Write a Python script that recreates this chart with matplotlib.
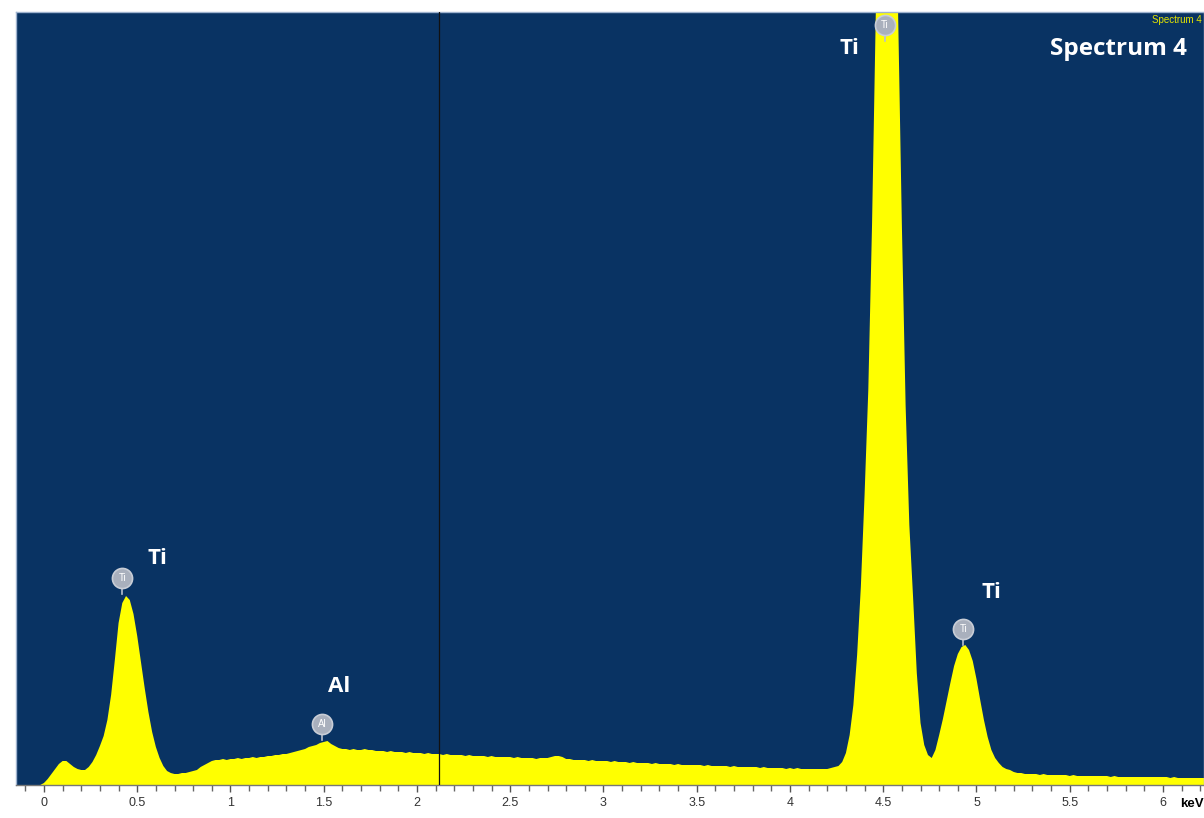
import numpy as np
import matplotlib
matplotlib.use("Agg")
import matplotlib.pyplot as plt
from matplotlib.ticker import MultipleLocator, FixedLocator

# EDS spectrum: counts per 0.02 keV channel, first channel at -0.02 keV
start_kev = -0.02
channel_kev = 0.02
counts = [
    0,
    2, 6, 11, 16, 21, 24, 24, 21, 18, 16,
    15, 15, 18, 23, 30, 39, 49, 65, 90, 125,
    162, 182, 189, 185, 171, 149, 123, 97, 73, 53,
    38, 27, 19, 14, 12, 11, 11, 12, 12, 13,
    14, 15, 18, 20, 22, 24, 25, 25, 26, 25,
    26, 26, 27, 26, 27, 27, 28, 27, 28, 28,
    29, 29, 30, 30, 31, 31, 32, 33, 34, 35,
    36, 38, 39, 40, 42, 43, 44, 41, 39, 37,
    36, 36, 35, 36, 35, 35, 36, 35, 35, 34,
    34, 34, 33, 34, 33, 33, 33, 32, 33, 32,
    32, 32, 31, 32, 31, 31, 31, 30, 31, 30,
    30, 30, 30, 29, 30, 29, 29, 29, 29, 28,
    29, 28, 28, 28, 28, 28, 27, 28, 27, 27,
    27, 27, 26, 27, 27, 27, 28, 29, 29, 28,
    26, 26, 25, 25, 25, 25, 24, 25, 24, 24,
    24, 24, 23, 24, 23, 23, 23, 22, 23, 22,
    22, 22, 22, 21, 22, 21, 21, 21, 21, 20,
    21, 20, 20, 20, 20, 20, 20, 19, 20, 19,
    19, 19, 19, 19, 18, 19, 18, 18, 18, 18,
    18, 18, 17, 18, 17, 17, 17, 17, 17, 16,
    17, 16, 17, 16, 16, 16, 16, 16, 16, 16,
    16, 17, 18, 19, 23, 32, 50, 80, 130, 198,
    290, 395, 560, 770, 950, 1060, 1100, 1060, 950, 770,
    560, 380, 260, 188, 112, 62, 40, 30, 27, 35,
    50, 66, 84, 102, 119, 131, 138, 140, 135, 124,
    106, 85, 65, 48, 35, 27, 22, 18, 16, 15,
    13, 12, 12, 11, 11, 11, 11, 10, 11, 10,
    10, 10, 10, 10, 10, 9, 10, 9, 9, 9,
    9, 9, 9, 9, 9, 9, 8, 9, 8, 8,
    8, 8, 8, 8, 8, 8, 8, 8, 8, 8,
    8, 8, 7, 8, 7, 7, 7, 7, 7, 7, 7, 7, 7,
]

# identified element lines: marker position and label position
line_names = ["Ti", "Al", "Ti", "Ti"]
line_kev = [0.42, 1.49, 4.51, 4.93]
marker_counts = [207, 61, 760, 156]
label_kev = [0.61, 1.58, 4.32, 5.08]
label_counts = [227, 99, 737, 192]

cursor_kev = 2.12
tick_labels = ["0", "0.5", "1", "1.5", "2", "2.5", "3", "3.5", "4", "4.5", "5", "5.5", "6"]
spectrum_name = "Spectrum 4"

energies = start_kev + channel_kev * np.arange(len(counts))

NAVY = "#093363"
YELLOW = "#ffff00"

fig = plt.figure(figsize=(12.04, 8.18), dpi=100)
ax = fig.add_axes([16 / 1204, 33 / 818, 1188 / 1204, 773 / 818])
ax.set_facecolor(NAVY)

ax.fill_between(energies, counts, 0, color=YELLOW, lw=0, zorder=2)
ax.axvline(cursor_kev, color="#111111", lw=0.9, zorder=3)

ax.set_xlim(-0.15, 6.22)
ax.set_ylim(0, 773)

# x axis: labels every 0.5 keV, ticks every 0.1 keV
ax.xaxis.set_major_locator(FixedLocator(np.arange(len(tick_labels)) * 0.5))
ax.set_xticklabels(tick_labels)
ax.xaxis.set_minor_locator(MultipleLocator(0.1))
ax.tick_params(axis="x", which="major", direction="out", length=5, width=1,
               color="#555555", labelsize=9, labelcolor="#333333", pad=4)
ax.tick_params(axis="x", which="minor", direction="out", length=4, width=1,
               color="#666666")
for lab in ax.get_xticklabels():
    lab.set_fontfamily("Liberation Sans")
ax.set_yticks([])

for side in ["top", "left", "right"]:
    ax.spines[side].set_color("#9fb3cf")
    ax.spines[side].set_linewidth(1)
ax.spines["bottom"].set_color("#777777")
ax.spines["bottom"].set_linewidth(1)

ax.text(1.0, -0.0245, "keV", transform=ax.transAxes, ha="right", va="center",
        fontsize=9.5, fontweight="bold", color="black",
        family="Liberation Sans")

# element markers and labels
for name, xk, ym, xl, yl in zip(line_names, line_kev, marker_counts,
                                label_kev, label_counts):
    ax.plot([xk, xk], [ym, ym - 16], color="#b8bfcc", lw=1.2, zorder=4)
    ax.scatter([xk], [ym], s=210, color="#a9b0bd", edgecolor="#c8cdd6",
               lw=1.2, zorder=5)
    ax.text(xk, ym, name, ha="center", va="center", fontsize=7,
            color="white", zorder=6, family="Liberation Sans")
    ax.text(xl, yl, name, ha="center", va="center", fontsize=16,
            fontweight="bold", color="white", family="Open Sans", zorder=6)

ax.text(0.986, 0.952, spectrum_name, transform=ax.transAxes, ha="right",
        va="center", fontsize=17.5, fontweight="bold", color="white",
        family="Open Sans")
ax.text(0.998, 0.990, spectrum_name, transform=ax.transAxes, ha="right",
        va="center", fontsize=7, color="#e5e600", family="Liberation Sans")

fig.savefig("out.png", dpi=100, facecolor="white")
